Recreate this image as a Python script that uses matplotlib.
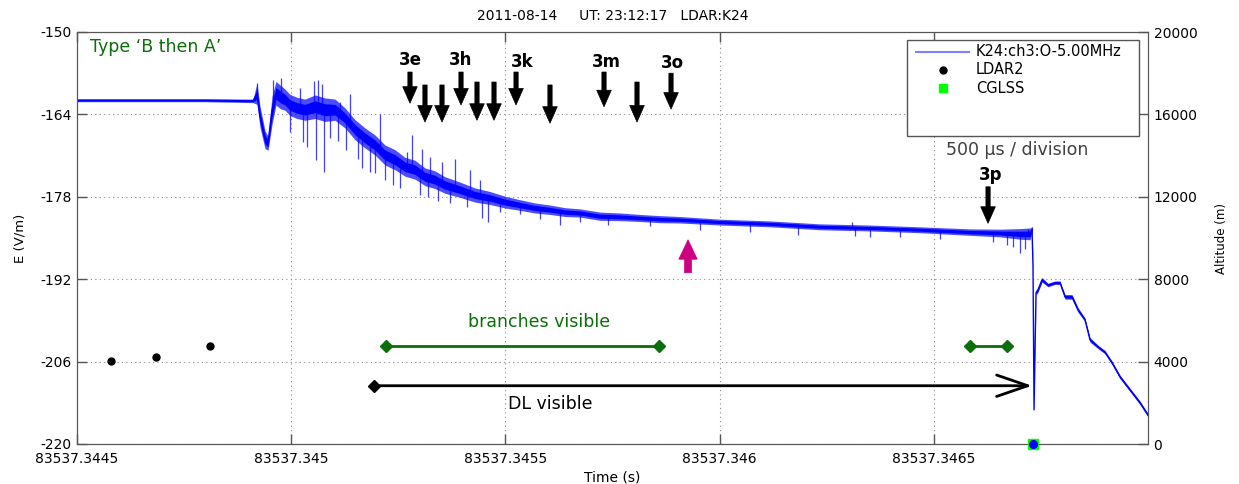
import numpy as np
import matplotlib.pyplot as plt
from matplotlib.lines import Line2D
from matplotlib.patches import Rectangle
from matplotlib.ticker import FuncFormatter

plt.rcParams["font.family"] = ["DejaVu Sans"]
plt.rcParams["axes.unicode_minus"] = False

# ============================================================
# DATA (time in microseconds after T0)
# ============================================================

T0 = 83537.3445  # s

# E-field trace: centre of the noisy band and its half width (V/m)
trace_us = [0, 170, 300, 410.8, 420.2, 427.2, 438.9, 445.9, 455.2, 464.5,
            473.9, 485.5, 497.2, 513.5, 532.2, 555.6, 578.9, 602.2, 625.6, 648.9,
            672.3, 695.6, 719.0, 742.3, 765.6, 789.0, 812.3, 835.7, 859.0, 894.0,
            929.1, 964.1, 999.1, 1034.1, 1069.1, 1104.1, 1139.1, 1174.2, 1220.8, 1267.5,
            1314.2, 1360.9, 1407.6, 1501.0, 1617.7, 1734.4, 1851.1, 1967.8, 2084.5, 2154.6,
            2201.2, 2224.6, 2229.3, 2231.6, 2234.0, 2238.6, 2243.3, 2252.6, 2266.6, 2283.0,
            2294.6, 2306.3, 2322.6, 2336.6, 2352.9, 2364.6, 2383.3, 2399.6, 2416.0, 2434.7,
            2458.0, 2481.4, 2500]
trace_mid = [-161.6, -161.6, -161.6, -161.7, -160.5, -164.4, -168.3, -168.9, -163.3, -160.4,
             -161.0, -161.5, -162.4, -162.9, -163.2, -162.7, -163.2, -163.2, -164.6, -166.6,
             -168.0, -169.2, -170.9, -171.7, -172.9, -173.4, -174.6, -175.1, -176.0, -176.8,
             -177.7, -178.2, -178.9, -179.4, -179.9, -180.2, -180.6, -180.75, -181.3, -181.4,
             -181.6, -181.8, -181.9, -182.3, -182.6, -183.1, -183.3, -183.6, -184.0, -184.15,
             -184.3, -184.3, -183.6, -189.9, -214.2, -194.3, -193.8, -192.1, -193.0, -192.6,
             -192.6, -195.0, -195.0, -197.2, -198.9, -202.3, -203.5, -204.4, -206.2, -208.6,
             -210.8, -213.0, -215.1]
trace_spread = [0.25, 0.25, 0.25, 0.3, 1.8, 1.8, 1.5, 1.2, 2.4, 2.0,
                2.0, 1.8, 1.8, 1.8, 1.8, 2.0, 2.0, 1.8, 1.7, 1.7,
                1.7, 1.7, 1.7, 1.7, 1.6, 1.6, 1.5, 1.5, 1.4, 1.3,
                1.2, 1.1, 1.0, 0.9, 0.85, 0.8, 0.75, 0.7, 0.7, 0.65,
                0.6, 0.6, 0.55, 0.5, 0.5, 0.5, 0.5, 0.5, 0.55, 0.65,
                0.9, 1.0, 0.5, 0.3, 0.0, 0.4, 0.4, 0.4, 0.3, 0.3,
                0.3, 0.4, 0.4, 0.4, 0.3, 0.4, 0.3, 0.3, 0.3, 0.3,
                0.3, 0.3, 0.3]

# individual noise spikes (tip value, V/m)
spike_us = [420.2, 457.5, 476.2, 497.2, 520.6, 527.6, 536.9, 553.2, 557.9, 562.6,
            571.9, 576.6, 590.6, 609.3, 613.9, 627.9, 637.3, 656.0, 665.3, 684.0,
            695.6, 707.3, 719.0, 737.6, 754.0, 770.3, 782.0, 800.7, 805.3, 819.3,
            824.0, 842.7, 852.0, 870.7, 882.4, 910.4, 917.4, 940.7, 945.4, 959.4,
            987.4, 1034.1, 1080.8, 1127.5, 1174.2, 1239.5, 1337.6, 1454.3, 1571.0, 1683.0,
            1809.1, 1816.1, 1851.1, 1921.1, 2014.5, 2138.2, 2170.9, 2184.9, 2201.2, 2212.9,
            2219.9, 2229.3]
spike_e = [-158.7, -158.2, -157.8, -167.0, -159.5, -168.7, -169.5, -158.4, -171.7, -158.2,
           -158.8, -173.8, -168.0, -168.5, -161.9, -170.0, -160.5, -171.5, -173.1, -173.8,
           -174.0, -164.0, -175.1, -176.0, -176.5, -170.4, -167.5, -177.7, -169.9, -178.0,
           -171.2, -178.7, -172.1, -179.0, -171.5, -179.7, -173.5, -175.1, -181.6, -182.3,
           -180.5, -181.0, -181.8, -182.8, -182.3, -182.8, -183.0, -183.6, -184.0, -184.5,
           -182.3, -184.7, -184.9, -184.8, -185.2, -185.7, -186.2, -186.5, -187.5, -186.8,
           -183.5, -183.1]

# LDAR2 sources and CGLSS stroke (altitude, m)
ldar_us = [79.4, 184.4, 310.5]
ldar_alt = [4030, 4220, 4760]
cglss_us = [2231.6]
cglss_alt = [0]

# step arrows
arrow_us = [777.3, 812.3, 852.0, 896.4, 933.7, 973.4, 1024.8, 1104.1, 1230.2, 1307.2, 1386.6, 2126.6]
arrow_top = [-156.8, -159.0, -159.0, -156.8, -158.5, -158.5, -156.8, -159.0, -156.8, -158.5, -157.0, -176.3]
arrow_tip = [-162.1, -165.3, -165.3, -162.4, -165.0, -165.0, -162.4, -165.5, -162.7, -165.3, -163.1, -182.5]

step_labels = ["3e", "3h", "3k", "3m", "3o", "3p"]
step_label_us = [777.3, 896.4, 1038.8, 1234.8, 1388.9, 2133.6]
step_label_e = [-154.8, -154.8, -155.1, -155.1, -155.3, -174.3]

# visibility intervals
branch_us = [[721.3, 1358.6], [2084.5, 2170.9]]
branch_e = -203.35
dl_us = [693.3, 2229.3]
dl_e = -210.1

magenta_us = 1426.3
magenta_e = [-190.9, -185.3]

BLUE = "#0000ff"
GREEN = "#0a6e0a"
GRID = "#8a8a8a"
AXC = "#555555"

# ============================================================
# FIGURE
# ============================================================

def to_t(us):
    return T0 + np.asarray(us) * 1e-6

fig = plt.figure(figsize=(12.39, 4.84), dpi=100)
ax = fig.add_axes([77 / 1239, 1 - 444 / 484, 1071 / 1239, 412 / 484])

mid = np.array(trace_mid)
spr = np.array(trace_spread)
t = to_t(trace_us)

# outer fuzz of the noisy trace, then its dense core
ax.fill_between(t, mid - spr, mid + spr, color=BLUE, lw=0, alpha=0.7, zorder=3)
ax.fill_between(t, mid - 0.5 * spr, mid + 0.5 * spr, color=BLUE, lw=0, alpha=1.0, zorder=3)
ax.plot(t, mid, color=BLUE, lw=1.0, zorder=3)
base = np.interp(spike_us, trace_us, trace_mid)
ax.vlines(to_t(spike_us), base, spike_e, color=BLUE, lw=0.9, alpha=0.75, zorder=3)

ax.set_xlim(T0, to_t(2500))
ax.set_ylim(-220, -150)
ax.set_xticks(to_t([0, 500, 1000, 1500, 2000]))
ax.xaxis.set_major_formatter(FuncFormatter(lambda v, p: f"{v:.4f}".rstrip("0").rstrip(".")))
ax.set_yticks(np.arange(-220, -149, 14))
ax.grid(True, ls=(0, (1, 3)), color=GRID, lw=0.8)
ax.set_axisbelow(True)
ax.tick_params(direction="in", length=7, width=1, color=AXC, labelsize=10,
               top=True, right=False)
ax.tick_params(axis="x", pad=6)
ax.tick_params(axis="y", pad=4)
for s in ax.spines.values():
    s.set_color(AXC)

ax.set_title("2011-08-14     UT: 23:12:17   LDAR:K24", fontsize=10, pad=9)
ax.set_xlabel("Time (s)", fontsize=10)
ax.xaxis.set_label_coords(0.5, -0.064)
ax.set_ylabel("E (V/m)", fontsize=9.5)
ax.yaxis.set_label_coords(-0.047, 0.5)

# altitude axis
ax2 = ax.twinx()
ax2.set_ylim(0, 20000)
ax2.set_yticks(np.arange(0, 20001, 4000))
ax2.tick_params(direction="in", length=7, width=1, color=AXC, labelsize=10, pad=4)
for s in ax2.spines.values():
    s.set_color(AXC)
ax2.set_ylabel("Altitude (m)", fontsize=8.5)
ax2.yaxis.set_label_coords(1.0625, 0.5)

ax2.plot(to_t(ldar_us), ldar_alt, "o", color="k", ms=5, zorder=5)
ax2.plot(to_t(cglss_us), cglss_alt, "s", color="#00ff00", ms=7, clip_on=False, zorder=5)
ax2.plot(to_t(cglss_us), cglss_alt, "o", color=BLUE, ms=5.5, clip_on=False, zorder=6)

# step arrows and labels
for us, y0, y1 in zip(arrow_us, arrow_top, arrow_tip):
    ax.annotate("", xy=(to_t(us), y1), xytext=(to_t(us), y0),
                arrowprops=dict(arrowstyle="simple,head_length=0.85,head_width=0.75,tail_width=0.22",
                                fc="k", ec="k", lw=0.5, shrinkA=0, shrinkB=0, mutation_scale=14),
                zorder=6)
for lab, us, y in zip(step_labels, step_label_us, step_label_e):
    ax.text(to_t(us), y, lab, ha="center", va="center", fontsize=12, fontweight="bold", zorder=6)

ax.annotate("", xy=(to_t(magenta_us), magenta_e[1]), xytext=(to_t(magenta_us), magenta_e[0]),
            arrowprops=dict(arrowstyle="simple,head_length=1.0,head_width=0.95,tail_width=0.36",
                            fc="#cc0080", ec="#cc0080", lw=0.5, shrinkA=0, shrinkB=0,
                            mutation_scale=14), zorder=6)

# visibility intervals
for seg in branch_us:
    ax.plot(to_t(seg), [branch_e, branch_e], "-D", color=GREEN, lw=2, ms=6.5, zorder=6)
ax.text(0.4314, 0.296, "branches visible", transform=ax.transAxes, ha="center", va="center",
        fontsize=12.5, color=GREEN)

ax.plot(to_t(dl_us[0]), dl_e, "D", color="k", ms=6.5, zorder=6)
ax.annotate("", xy=(to_t(dl_us[1]), dl_e), xytext=(to_t(dl_us[0]), dl_e),
            arrowprops=dict(arrowstyle="->,head_length=1.6,head_width=0.55", color="k", lw=2,
                            shrinkA=0, shrinkB=0, mutation_scale=14), zorder=6)
ax.text(0.4024, 0.097, "DL visible", transform=ax.transAxes, ha="left", va="center", fontsize=12.5)

ax.text(0.0121, 0.9636, "Type \u2018B then A\u2019", transform=ax.transAxes, ha="left", va="center",
        fontsize=12.5, color=GREEN)
ax.text(0.8114, 0.7136, "500 \u00b5s / division", transform=ax.transAxes, ha="left", va="center",
        fontsize=12.5, color="#404040")

# legend box (MATLAB style, taller than its entries)
W, H = 1239, 484
fig.add_artist(Rectangle((907 / W, 1 - 136 / H), 232 / W, 96 / H, transform=fig.transFigure,
                         fc="white", ec=AXC, lw=1, zorder=10))
fig.add_artist(Line2D([916 / W, 969 / W], [1 - 52 / H] * 2, transform=fig.transFigure,
                      color="#8080ff", lw=1.5, zorder=11))
fig.add_artist(Line2D([943 / W], [1 - 70 / H], transform=fig.transFigure, marker="o",
                      color="k", ms=5, ls="none", zorder=11))
fig.add_artist(Line2D([943 / W], [1 - 88 / H], transform=fig.transFigure, marker="s",
                      color="#00ff00", ms=6, ls="none", zorder=11))
for y, lab in zip([52, 70, 88], ["K24:ch3:O-5.00MHz", "LDAR2", "CGLSS"]):
    fig.text(976 / W, 1 - y / H, lab, ha="left", va="center", fontsize=10.5, zorder=12)

fig.savefig("out.png", dpi=100)
